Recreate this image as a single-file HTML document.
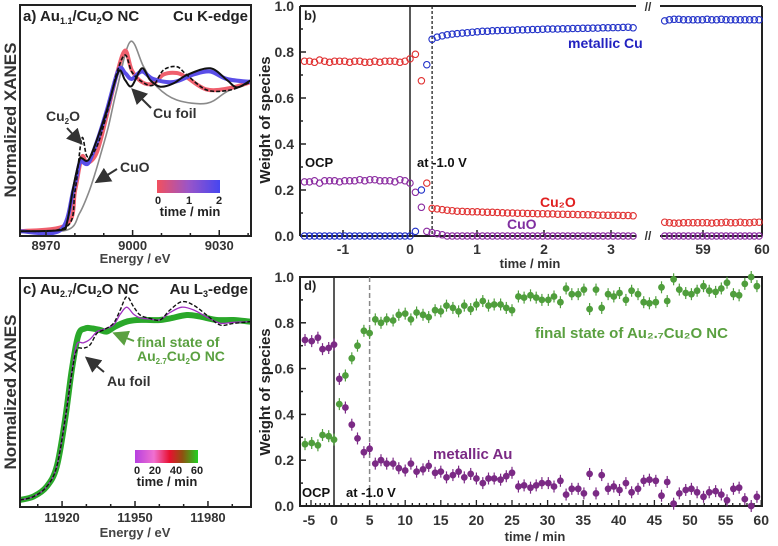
<!DOCTYPE html>
<html><head><meta charset="utf-8"><style>
html,body{margin:0;padding:0;background:#fff}
svg{display:block;font-family:"Liberation Sans",sans-serif;font-weight:bold}
</style></head><body>
<svg id="fig" width="778" height="546" viewBox="0 0 778 546" xmlns="http://www.w3.org/2000/svg">
<defs>
<linearGradient id="gA" x1="0" x2="1" y1="0" y2="0"><stop offset="0" stop-color="#f2505e"/><stop offset="0.5" stop-color="#9a55c8"/><stop offset="1" stop-color="#4646f0"/></linearGradient>
<linearGradient id="gC" x1="0" x2="1" y1="0" y2="0"><stop offset="0" stop-color="#b640e0"/><stop offset="0.3" stop-color="#f070d0"/><stop offset="0.55" stop-color="#e81030"/><stop offset="0.75" stop-color="#905010"/><stop offset="1" stop-color="#20d020"/></linearGradient>
<marker id="ah" markerWidth="8" markerHeight="8" refX="6" refY="4" orient="auto"><path d="M0,0 L8,4 L0,8 z" fill="#333"/></marker>
<marker id="ahg" markerWidth="8" markerHeight="8" refX="6" refY="4" orient="auto"><path d="M0,0 L8,4 L0,8 z" fill="#5aa040"/></marker>
</defs>
<g id="pa"></g>
<g id="pb"></g>
<g id="pc"></g>
<g id="pd"></g>

<text x="23" y="21" font-size="15" fill="#222">a) Au<tspan font-size="9" dy="3">1.1</tspan><tspan dy="-3">/Cu</tspan><tspan font-size="9" dy="3">2</tspan><tspan dy="-3">O NC</tspan></text>
<text x="248" y="21" font-size="15" fill="#222" text-anchor="end">Cu K-edge</text>
<text transform="translate(16,120) rotate(-90)" font-size="17" fill="#333" text-anchor="middle">Normalized XANES</text>
<text x="135" y="263" font-size="13" fill="#444" text-anchor="middle">Energy / eV</text>
<text x="46" y="121" font-size="14" fill="#333">Cu<tspan font-size="8" dy="3">2</tspan><tspan dy="-3">O</tspan></text>
<line x1="67" y1="128" x2="80" y2="142" stroke="#333" stroke-width="2" marker-end="url(#ah)"/>
<text x="120" y="172" font-size="14" fill="#333">CuO</text>
<line x1="117" y1="169" x2="98" y2="181" stroke="#333" stroke-width="2" marker-end="url(#ah)"/>
<text x="153" y="118" font-size="14" fill="#333">Cu foil</text>
<line x1="151" y1="108" x2="134" y2="91" stroke="#333" stroke-width="2" marker-end="url(#ah)"/>
<rect x="157" y="180" width="63" height="13" fill="url(#gA)"/>
<text x="158" y="204" font-size="11" fill="#222" text-anchor="middle">0</text>
<text x="189" y="204" font-size="11" fill="#222" text-anchor="middle">1</text>
<text x="219" y="204" font-size="11" fill="#222" text-anchor="middle">2</text>
<text x="190" y="216" font-size="13" fill="#222" text-anchor="middle">time / min</text>

<text x="23" y="294" font-size="15" fill="#222">c) Au<tspan font-size="9" dy="3">2.7</tspan><tspan dy="-3">/Cu</tspan><tspan font-size="9" dy="3">2</tspan><tspan dy="-3">O NC</tspan></text>
<text x="248" y="294" font-size="15" fill="#222" text-anchor="end">Au L<tspan font-size="9" dy="3">3</tspan><tspan dy="-3">-edge</tspan></text>
<text transform="translate(16,392) rotate(-90)" font-size="17" fill="#333" text-anchor="middle">Normalized XANES</text>
<text x="135" y="537" font-size="13" fill="#444" text-anchor="middle">Energy / eV</text>
<text x="137" y="347" font-size="14" fill="#5aa040">final state of</text>
<text x="137" y="361" font-size="14" fill="#5aa040">Au<tspan font-size="8" dy="3">2.7</tspan><tspan dy="-3">Cu</tspan><tspan font-size="8" dy="3">2</tspan><tspan dy="-3">O NC</tspan></text>
<line x1="134" y1="341" x2="116" y2="334" stroke="#5aa040" stroke-width="2" marker-end="url(#ahg)"/>
<text x="107" y="386" font-size="14" fill="#333">Au foil</text>
<line x1="104" y1="372" x2="88" y2="359" stroke="#333" stroke-width="2" marker-end="url(#ah)"/>
<rect x="135" y="450" width="63" height="13" fill="url(#gC)"/>
<text x="137" y="474" font-size="11" fill="#222" text-anchor="middle">0</text>
<text x="155" y="474" font-size="11" fill="#222" text-anchor="middle">20</text>
<text x="176" y="474" font-size="11" fill="#222" text-anchor="middle">40</text>
<text x="197" y="474" font-size="11" fill="#222" text-anchor="middle">60</text>
<text x="167" y="486" font-size="13" fill="#222" text-anchor="middle">time / min</text>

<text x="304" y="20" font-size="13" fill="#222">b)</text>
<text transform="translate(270,120) rotate(-90)" font-size="15" fill="#222" text-anchor="middle">Weight of species</text>
<text x="530" y="268" font-size="13" fill="#333" text-anchor="middle">time / min</text>
<text x="568" y="48" font-size="14" fill="#2222c0">metallic Cu</text>
<text x="305" y="167" font-size="13" fill="#111">OCP</text>
<text x="417" y="167" font-size="13" fill="#111">at -1.0 V</text>
<text x="540" y="207" font-size="14" fill="#e02020">Cu₂O</text>
<text x="507" y="229" font-size="14" fill="#8030a0">CuO</text>

<text x="304" y="290" font-size="13" fill="#222">d)</text>
<text transform="translate(270,392) rotate(-90)" font-size="15" fill="#222" text-anchor="middle">Weight of species</text>
<text x="535" y="541" font-size="13" fill="#333" text-anchor="middle">time / min</text>
<text x="535" y="338" font-size="15" fill="#5aa040">final state of Au₂.₇Cu₂O NC</text>
<text x="433" y="459" font-size="15" fill="#7b2a85">metallic Au</text>
<text x="302" y="497" font-size="13" fill="#111">OCP</text>
<text x="346" y="497" font-size="13" fill="#111">at -1.0 V</text>
</svg>
<script>
const eFoil=[8961,8975,8977.2,8979.5,8981.6,8982.4,8984.7,8987.6,8991.1,8995.1,8997.4,8999.7,9003.2,9006.1,9009.6,9014.2,9018.8,9026.9,9032.7,9036.2,9041];
const vFoil=[0.005,0.013,0.058,0.302,0.48,0.491,0.48,0.613,0.813,1.069,1.013,0.973,1.091,1.013,0.969,0.991,1.047,1.091,1.013,0.964,1.013];
const eCu2O=[8961,8977.2,8980.1,8982.4,8984.3,8987.6,8991.1,8994.5,8997.4,8999.7,9003.2,9007.2,9010.7,9015.3,9018.8,9025.7,9033.8,9041];
const vCu2O=[0.005,0.036,0.28,0.624,0.502,0.569,0.791,1.058,1.18,1.069,1.002,0.98,1.08,1.102,1.047,0.947,0.947,1.0];
const vT0=[0.005,0.05,0.28,0.5,0.46,0.53,0.78,1.05,1.21,1.08,1.0,0.99,1.05,1.06,1.03,0.95,0.96,1.0];
const eT2=[8961,8975,8979.5,8981.6,8982.4,8984.7,8987.6,8991.1,8995.1,8997.4,8999.7,9003.2,9007.2,9014.2,9021.1,9026.9,9032.7,9041];
const vT2=[0.005,0.013,0.28,0.46,0.47,0.46,0.6,0.813,1.08,1.06,1.02,1.07,1.02,1.0,1.05,1.07,1.02,1.0];
const eCuO=[8961,8977.2,8981.6,8984.7,8987,8988.7,8991.6,8994.5,8999.2,9003.8,9008.4,9015.3,9025.7,9032.7,9041];
const vCuO=[0.005,0.013,0.124,0.258,0.391,0.502,0.702,0.947,1.269,1.102,0.969,0.88,0.858,0.936,1.013];
const ticksA=[8970,9000,9030];
const eGreen=[11902.7,11908.2,11913.7,11917.8,11921.2,11924,11926.7,11929.5,11932.2,11935.6,11938.4,11941.8,11946.6,11950.8,11956.2,11960.3,11964.4,11971.3,11976.8,11983.6,11990.5,11997.6];
const vGreen=[0.017,0.036,0.092,0.204,0.466,0.747,0.944,0.981,0.981,0.972,0.963,0.991,1.019,1.028,1.028,1.028,1.037,1.056,1.047,1.028,1.028,1.019];
const eAuFoil=[11902.7,11908.2,11913.7,11917.8,11921.2,11924,11926,11928.8,11931.5,11934.3,11937,11941.1,11943.9,11946.6,11949.4,11952.1,11956.2,11960.3,11964.4,11969.2,11974,11979.5,11985,11990.5,11997.6];
const vAuFoil=[0.017,0.036,0.092,0.204,0.466,0.728,0.86,0.869,0.888,0.953,0.972,1.009,1.084,1.159,1.103,1.056,1.037,1.028,1.084,1.131,1.112,1.056,1.0,1.009,1.019];
const vPurple=[0.017,0.036,0.092,0.204,0.466,0.735,0.89,0.9,0.92,0.962,0.975,1.0,1.06,1.1,1.06,1.04,1.033,1.03,1.07,1.1,1.085,1.045,1.01,1.015,1.019];
const ticksC=[11920,11950,11980];
const tOcp=[-1.575,-1.5,-1.425,-1.35,-1.275,-1.2,-1.125,-1.05,-0.975,-0.9,-0.825,-0.75,-0.675,-0.6,-0.525,-0.45,-0.375,-0.3,-0.225,-0.15,-0.075,0];
const cu2oOcp=[0.76,0.76,0.755,0.765,0.76,0.755,0.76,0.76,0.76,0.755,0.76,0.76,0.755,0.755,0.76,0.755,0.76,0.76,0.76,0.755,0.76,0.77];
const cuoOcp=[0.235,0.235,0.24,0.23,0.24,0.24,0.24,0.235,0.24,0.24,0.24,0.245,0.24,0.245,0.245,0.24,0.24,0.24,0.235,0.245,0.24,0.23];
const cuOcp=[0,0,0,0,0,0,0,0,0,0,0,0,0,0,0,0,0,0,0,0,0,0];
const tTrans=[0.08,0.17,0.25];
const cu2oTrans=[0.79,0.675,0.23];
const cuoTrans=[0.19,0.125,0.02];
const cuTrans=[0.02,0.2,0.745];
const tRed=[0.33,0.405,0.48,0.555,0.63,0.705,0.78,0.855,0.93,1.005,1.08,1.155,1.23,1.305,1.38,1.455,1.53,1.605,1.68,1.755,1.83,1.905,1.98,2.055,2.13,2.205,2.28,2.355,2.43,2.505,2.58,2.655,2.73,2.805,2.88,2.955,3.03,3.105,3.18,3.255,3.33];
const cuRed=[0.855,0.865,0.87,0.875,0.878,0.88,0.882,0.884,0.886,0.888,0.89,0.89,0.892,0.893,0.894,0.895,0.895,0.896,0.896,0.897,0.898,0.898,0.899,0.9,0.9,0.9,0.901,0.901,0.902,0.902,0.903,0.903,0.904,0.904,0.905,0.905,0.906,0.906,0.907,0.908,0.905];
const cu2oRed=[0.12,0.118,0.115,0.112,0.11,0.108,0.107,0.106,0.105,0.105,0.104,0.103,0.103,0.102,0.101,0.1,0.1,0.099,0.099,0.098,0.098,0.097,0.097,0.096,0.096,0.095,0.095,0.094,0.094,0.093,0.093,0.092,0.092,0.091,0.091,0.09,0.09,0.09,0.089,0.089,0.088];
const cuoRed=[0.015,0.01,0.005,0,0,0,0,0,0,0,0,0,0,0,0,0,0,0,0,0,0,0,0,0,0,0,0,0,0,0,0,0,0,0,0,0,0,0,0,0,0];
const tEnd=[58.35,58.43,58.51,58.59,58.67,58.75,58.83,58.91,58.99,59.07,59.15,59.23,59.31,59.39,59.47,59.55,59.63,59.71,59.79,59.87,59.95];
const cuEnd=[0.935,0.94,0.942,0.942,0.94,0.94,0.94,0.94,0.94,0.942,0.94,0.94,0.942,0.94,0.94,0.94,0.94,0.94,0.94,0.94,0.94];
const cu2oEnd=[0.06,0.058,0.056,0.056,0.058,0.058,0.058,0.058,0.058,0.058,0.056,0.058,0.058,0.06,0.058,0.058,0.06,0.058,0.058,0.06,0.06];
const cuoEnd=[0,0,0,0,0,0,0,0,0,0,0,0,0,0,0,0,0,0,0,0,0];
const ticksBLeft=[-1,0,1,2,3];
const ticksBRight=[59,60];
const ticksY=[0,0.2,0.4,0.6,0.8,1.0];
const tD=[-6.3,-4.85,-3.5,-2.5,-1.15,0,0.75,1.6,2.5,3.3,4.2,5.0,5.8,6.6,7.4,8.3,9.1,10.0,10.8,11.6,12.5,13.3,14.2,15.0,15.8,16.7,17.5,18.3,19.2,20.0,20.9,21.7,22.5,23.4,24.2,25.0,25.9,26.7,27.6,28.4,29.2,30.1,30.9,31.8,32.6,33.4,34.3,35.1,35.9,36.8,37.6,38.5,39.3,40.1,41.0,41.8,42.7,43.5,44.3,45.2,46.0,46.8,47.7,48.5,49.4,50.2,51.0,51.9,52.7,53.6,54.4,55.2,56.1,56.9,57.7,58.6,59.4];
const finalD=[0.27,0.275,0.265,0.31,0.305,0.29,0.445,0.57,0.645,0.70,0.765,0.755,0.815,0.8,0.815,0.81,0.835,0.84,0.815,0.845,0.835,0.825,0.855,0.85,0.875,0.865,0.85,0.875,0.86,0.88,0.895,0.875,0.88,0.88,0.865,0.855,0.915,0.91,0.92,0.91,0.9,0.9,0.915,0.89,0.95,0.925,0.925,0.945,0.86,0.945,0.865,0.925,0.915,0.93,0.9,0.94,0.925,0.89,0.885,0.89,0.955,0.895,0.99,0.945,0.93,0.925,0.94,0.96,0.94,0.935,0.95,0.975,0.925,0.92,0.97,1.0,0.96];
const auD=[0.725,0.72,0.735,0.685,0.69,0.705,0.555,0.43,0.355,0.295,0.235,0.25,0.185,0.2,0.185,0.185,0.165,0.155,0.185,0.15,0.16,0.175,0.145,0.15,0.125,0.135,0.15,0.125,0.14,0.12,0.1,0.12,0.12,0.115,0.13,0.145,0.085,0.09,0.08,0.09,0.1,0.1,0.085,0.11,0.05,0.075,0.075,0.055,0.14,0.055,0.135,0.075,0.085,0.07,0.1,0.06,0.075,0.11,0.115,0.11,0.045,0.105,0.01,0.055,0.07,0.075,0.06,0.04,0.06,0.065,0.05,0.025,0.075,0.08,0.03,0.0,0.04];
const ticksD=[-5,0,5,10,15,20,25,30,35,40,45,50,55,60];

const NS='http://www.w3.org/2000/svg';
function mk(tag,parent){const e=document.createElementNS(NS,tag);parent.appendChild(e);return e;}
function smooth(pts){let d='M'+pts[0][0].toFixed(1)+','+pts[0][1].toFixed(1);
 for(let i=0;i<pts.length-1;i++){const p0=pts[i-1]||pts[i],p1=pts[i],p2=pts[i+1],p3=pts[i+2]||p2;
  const c1=[p1[0]+(p2[0]-p0[0])/6,p1[1]+(p2[1]-p0[1])/6],c2=[p2[0]-(p3[0]-p1[0])/6,p2[1]-(p3[1]-p1[1])/6];
  d+='C'+c1.map(v=>v.toFixed(1))+' '+c2.map(v=>v.toFixed(1))+' '+p2.map(v=>v.toFixed(1));}
 return d;}
function curve(g,es,vs,xf,yf,stroke,w,dash,name){const p=mk('path',g);
 
 
 p.setAttribute('d',smooth(es.map((e,i)=>[xf(e),yf(vs[i])])));
 p.setAttribute('fill','none');p.setAttribute('stroke',stroke);p.setAttribute('stroke-width',w);
 if(dash)p.setAttribute('stroke-dasharray',dash);p.setAttribute('stroke-linejoin','round');}
function line(g,x1,y1,x2,y2,stroke,w,name,dash){const l=mk('line',g);
 
 
 l.setAttribute('x1',x1);l.setAttribute('y1',y1);l.setAttribute('x2',x2);l.setAttribute('y2',y2);
 l.setAttribute('stroke',stroke);l.setAttribute('stroke-width',w);if(dash)l.setAttribute('stroke-dasharray',dash);}
function txt(g,x,y,s,anchor,size,name){const t=mk('text',g);
 
 
 t.setAttribute('x',x);t.setAttribute('y',y);t.setAttribute('text-anchor',anchor);t.setAttribute('font-size',size);t.setAttribute('fill','#333');t.textContent=s;}
function frame(g,x,y,w,h,name){const r=mk('rect',g);
 
 
 r.setAttribute('x',x);r.setAttribute('y',y);r.setAttribute('width',w);r.setAttribute('height',h);r.setAttribute('fill','none');r.setAttribute('stroke','#222');r.setAttribute('stroke-width',2);}

(function(){const g=document.getElementById('pa');
 const L=20,R=251,T=5,B=236,e0=8961,e1=9041;
 const x=e=>L+(e-e0)/(e1-e0)*(R-L), y=v=>232-150*v;
 curve(g,eCuO,vCuO,x,y,'#8a8a8a',1.6,null,'cuo-reference-curve');
 curve(g,eCu2O,vT0,x,y,'#f0606e',4,null,'spectrum-t0');
 curve(g,eT2,vT2,x,y,'#5a4ee8',4,null,'spectrum-t2');
 curve(g,eFoil,vFoil,x,y,'#111',2,null,'cu-foil-curve');
 curve(g,eCu2O,vCu2O,x,y,'#111',1.6,'4,2','cu2o-reference-curve');
 frame(g,L,T,R-L,B-T,'panel-a-frame');
 for(let e=8970;e<=9040;e+=10){line(g,x(e),B,x(e),B-(ticksA.includes(e)?6:3),'#222',1.5,'x-tick-a');}
 ticksA.forEach(e=>txt(g,x(e),250,String(e),'middle',13,'x-tick-label-a'));
})();
(function(){const g=document.getElementById('pc');
 const L=20,R=251,T=278,B=507,e0=11902.7,e1=11997.7;
 const x=e=>L+(e-e0)/(e1-e0)*(R-L), y=v=>503-178*v;
 curve(g,eGreen,vGreen,x,y,'#2aa82a',6,null,'final-state-curve');
 curve(g,eAuFoil,vPurple,x,y,'#a030c0',1.3,null,'spectrum-t0-c');
 curve(g,eAuFoil,vAuFoil,x,y,'#111',1.4,'4,2','au-foil-curve');
 frame(g,L,T,R-L,B-T,'panel-c-frame');
 for(let e=11910;e<=11990;e+=10){line(g,x(e),B,x(e),B-(ticksC.includes(e)?6:3),'#222',1.5,'x-tick-c');}
 ticksC.forEach(e=>txt(g,x(e),522,String(e),'middle',13,'x-tick-label-c'));
})();
(function(){const g=document.getElementById('pb');
 const T=6,B=236;const x=t=>t<30?410+t*67:703+(t-59)*59; const y=v=>B-v*(B-T);
 line(g,300,T,300,B,'#222',2,'panel-b-left-axis');line(g,762,T,762,B,'#222',2,'panel-b-right-axis');
 line(g,300,T,636,T,'#222',2,'panel-b-top-axis-left');line(g,660,T,762,T,'#222',2,'panel-b-top-axis-right');
 line(g,300,B,636,B,'#222',2,'panel-b-bottom-axis-left');line(g,660,B,762,B,'#222',2,'panel-b-bottom-axis-right');
 txt(g,648,11,'//','middle',12,'axis-break-top');txt(g,648,240,'//','middle',12,'axis-break-bottom');
 line(g,x(0),T,x(0),B,'#222',1.5,'potential-step-line');
 line(g,x(0.33),T,x(0.33),B,'#222',1.3,'transition-dashed-line','3,2');
 for(let v=0;v<=1.001;v+=0.1){const maj=Math.abs(v*5-Math.round(v*5))<0.01;line(g,300,y(v),300+(maj?6:3),y(v),'#222',1.5,'y-tick-b');}
 ticksY.forEach(v=>txt(g,294,y(v)+5,v.toFixed(1),'end',14,'y-tick-label-b'));
 ticksBLeft.concat(ticksBRight).forEach(t=>{line(g,x(t),B,x(t),B-6,'#222',1.5,'x-tick-b');txt(g,x(t),254,String(t),'middle',14,'x-tick-label-b');});
 function pts(ts,vs,color,name){ts.forEach((t,i)=>{const c=mk('circle',g);
  
  
  c.setAttribute('cx',x(t).toFixed(1));c.setAttribute('cy',y(vs[i]).toFixed(1));c.setAttribute('r',3.2);
  c.setAttribute('fill','none');c.setAttribute('stroke',color);c.setAttribute('stroke-width',1.1);});}
 const segs=[[tOcp,cuOcp,cu2oOcp,cuoOcp],[tTrans,cuTrans,cu2oTrans,cuoTrans],[tRed,cuRed,cu2oRed,cuoRed],[tEnd,cuEnd,cu2oEnd,cuoEnd]];
 segs.forEach(s=>{pts(s[0],s[3],'#8a2aa0','cuo-point');pts(s[0],s[2],'#e03030','cu2o-point');pts(s[0],s[1],'#2030c8','metallic-cu-point');});
})();
(function(){const g=document.getElementById('pd');
 const T=277,B=506;const x=t=>t<0?334+t*4.6:334+t*7.12; const y=v=>B-v*(B-T);
 frame(g,300,T,462,B-T,'panel-d-frame');
 line(g,x(0),T,x(0),B,'#222',1.5,'potential-step-line-d');
 line(g,x(5),T,x(5),B,'#888',1.5,'transition-dashed-line-d','5,3');
 for(let v=0;v<=1.001;v+=0.1){const maj=Math.abs(v*5-Math.round(v*5))<0.01;line(g,300,y(v),300+(maj?6:3),y(v),'#222',1.5,'y-tick-d');}
 ticksY.forEach(v=>txt(g,294,y(v)+5,v.toFixed(1),'end',14,'y-tick-label-d'));
 for(let t=-6;t<=60;t++){line(g,x(t),B,x(t),B-(ticksD.includes(t)?6:3),'#222',1.3,'x-tick-d');}
 ticksD.forEach(t=>txt(g,x(t)+(t<0?-2:0),525,String(t),'middle',14,'x-tick-label-d'));
 function pts(vs,color,name){tD.forEach((t,i)=>{const cx=x(t),cy=y(vs[i]);
  line(g,cx,cy-6,cx,cy+6,color,1.2,name+'-error-bar');
  const c=mk('circle',g);
  
  
  c.setAttribute('cx',cx.toFixed(1));c.setAttribute('cy',cy.toFixed(1));c.setAttribute('r',3.4);c.setAttribute('fill',color);});}
 pts(finalD,'#4f9e3c','final-state-point');
 pts(auD,'#7b2a85','metallic-au-point');
})();
</script>
</body></html>
